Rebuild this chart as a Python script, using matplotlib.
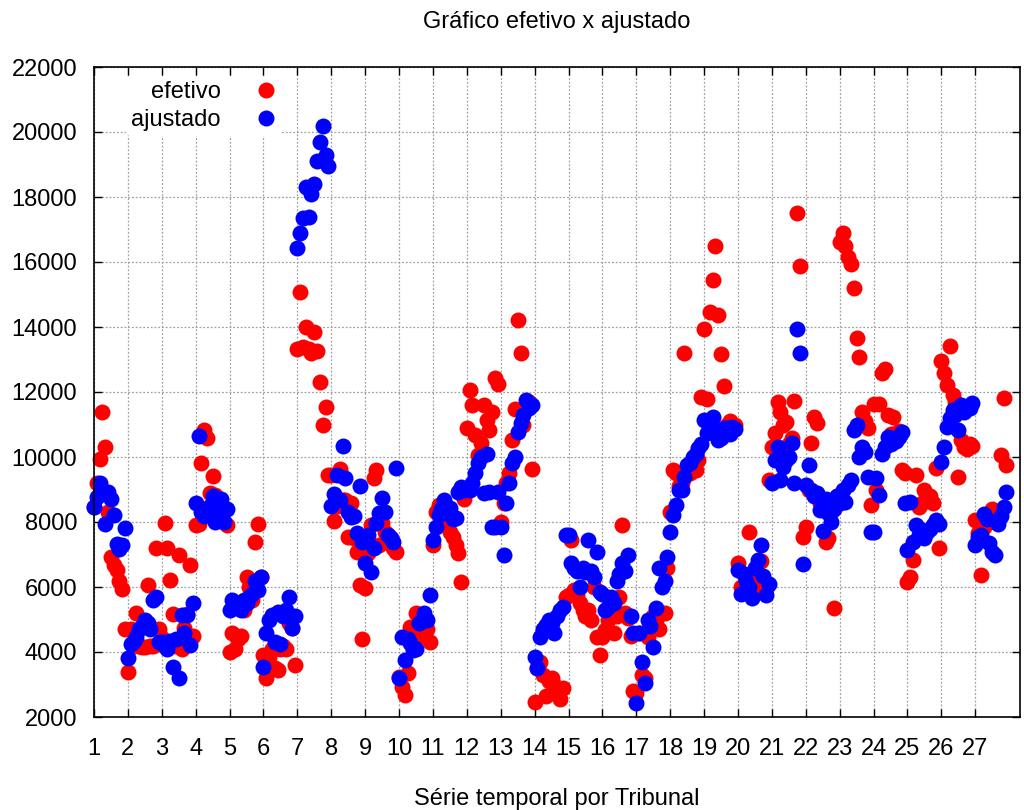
import matplotlib.pyplot as plt
import numpy as np

plt.rcParams['font.family'] = ['Liberation Sans', 'DejaVu Sans']

# 27 tribunais, 12 observações por tribunal
tribunais = [str(i) for i in range(1, 28)]

efetivo = [
    [8460, 9200, 9940, 11400, 10300, 8320, 6930, 6680, 6520, 6200, 5940, 4700],
    [3380, 4700, 4200, 5200, 4200, 4150, 4150, 6050, 4200, 4200, 7200, 4700],
    [4440, 7970, 7200, 6230, 5180, 4200, 6970, 4100, 4740, 5180, 6680, 4500],
    [7900, 7950, 9810, 10830, 10580, 8890, 9430, 8840, 8700, 8500, 8000, 7900],
    [4000, 4600, 4100, 4400, 4500, 5300, 6300, 6000, 5600, 7400, 7950, 6300],
    [3900, 3200, 3850, 4100, 3500, 3450, 4080, 4200, 4080, 4900, 4740, 3600],
    [13330, 15070, 13400, 14000, 13320, 13200, 13850, 13250, 12320, 10970, 11550, 9450],
    [9460, 8030, 8500, 9640, 8680, 8680, 7550, 8600, 7500, 7070, 6060, 4390],
    [5970, 7040, 7900, 9340, 9600, 7300, 7970, 7700, 7600, 7390, 7200, 7080],
    [3240, 2930, 2680, 3350, 4780, 4600, 5200, 4500, 4890, 5000, 4700, 4320],
    [7290, 8310, 8520, 8000, 8200, 7900, 7700, 7540, 7290, 7040, 6160, 8700],
    [10890, 12060, 11600, 10680, 10060, 10430, 11600, 11140, 10830, 11400, 12430, 12250],
    [8000, 8580, 9200, 9500, 10520, 11480, 14210, 13200, 11000, 11500, 11700, 9630],
    [2450, 3500, 3700, 3300, 2650, 3100, 3200, 3000, 2900, 2550, 2900, 5700],
    [5750, 7450, 5900, 5750, 5500, 5300, 5100, 5300, 5000, 6000, 4470, 3900],
    [4470, 4680, 5000, 5500, 4600, 5100, 5690, 7900, 5200, 5050, 4500, 2800],
    [2730, 4600, 3290, 3200, 4470, 4800, 5100, 5000, 4700, 5200, 5200, 6600],
    [8310, 9600, 9500, 9100, 9200, 13200, 9700, 9500, 9800, 9600, 9900, 11850],
    [13930, 11800, 14460, 15460, 16490, 14380, 13160, 12180, 11000, 11100, 10800, 11000],
    [6740, 6000, 6400, 6300, 7700, 6200, 6000, 6300, 6800, 6000, 5950, 9300],
    [10300, 10730, 11680, 11400, 11000, 11090, 10400, 10580, 11710, 17510, 15870, 7540],
    [7850, 9000, 10420, 11240, 11040, 8600, 8400, 7390, 7500, 8300, 5340, 8800],
    [16620, 16880, 16500, 16160, 15950, 15190, 13650, 13080, 11400, 11100, 10900, 8520],
    [11630, 9000, 11630, 12600, 12700, 11300, 10700, 11240, 10600, 10800, 9600, 9500],
    [6160, 6310, 6830, 9440, 8470, 8600, 8990, 8700, 8800, 8600, 9650, 7190],
    [12950, 12580, 12220, 13410, 11900, 11700, 9390, 10520, 10300, 10250, 10400, 10350],
    [8060, 7650, 6370, 7850, 8000, 8200, 8400, 8000, 8200, 10060, 11810, 9750],
]

ajustado = [
    [8470, 8770, 9200, 8900, 7940, 8930, 8700, 8210, 7320, 7170, 7300, 7810],
    [3820, 4250, 4350, 4450, 4700, 4800, 5000, 4900, 4700, 5600, 5700, 4300],
    [4310, 4200, 4100, 4350, 3540, 4400, 3200, 5130, 4590, 5130, 4230, 5500],
    [8600, 10650, 8300, 8200, 8400, 8500, 8800, 8000, 8300, 8700, 8000, 8400],
    [5300, 5600, 5500, 5400, 5300, 5600, 5500, 5700, 5800, 6200, 5900, 6300],
    [3540, 4600, 4980, 5150, 4300, 5220, 4260, 5100, 5280, 5700, 4740, 5100],
    [16440, 16900, 17340, 18300, 17400, 18100, 18400, 19100, 19700, 20200, 19300, 18950],
    [8500, 8860, 9460, 8680, 10350, 9340, 8320, 8140, 8200, 7670, 9100, 7400],
    [6740, 7610, 6470, 7200, 7970, 8280, 8740, 8300, 7610, 7500, 7400, 9660],
    [3200, 4470, 3750, 4400, 4270, 4060, 4100, 4890, 4960, 5200, 5000, 5750],
    [7450, 7850, 8220, 8400, 8680, 8300, 8430, 8100, 8120, 8930, 9080, 9000],
    [9050, 9000, 9200, 9500, 9810, 10000, 8890, 10100, 8930, 7850, 7850, 8930],
    [7850, 6980, 8580, 9200, 9810, 10010, 10780, 11040, 11300, 11750, 11500, 11600],
    [3850, 3500, 4470, 4700, 4830, 4990, 4900, 4580, 5100, 5290, 5400, 7600],
    [7600, 6740, 6600, 6500, 6000, 6600, 6460, 7450, 6500, 6300, 7080, 5840],
    [5800, 5290, 5390, 5700, 5500, 6200, 6400, 6740, 6500, 6980, 5100, 4600],
    [2430, 4580, 3700, 3050, 4990, 4800, 4160, 5350, 6580, 6000, 6200, 6930],
    [7700, 8220, 8520, 8990, 9000, 9390, 9750, 9810, 10010, 10100, 10270, 10400],
    [11140, 10730, 11000, 11240, 10800, 10520, 10600, 10900, 10900, 10700, 10930, 10850],
    [6520, 5800, 6400, 6200, 6000, 5650, 6600, 6830, 7290, 6350, 5750, 6100],
    [9200, 9900, 10310, 9290, 9700, 9900, 10000, 10420, 9200, 13950, 13200, 6700],
    [9140, 9750, 8990, 8800, 8900, 8370, 7720, 8700, 8270, 8000, 8400, 8800],
    [8600, 9000, 8620, 9140, 9290, 10830, 10980, 10010, 10310, 10150, 9390, 7700],
    [7700, 9350, 8830, 10100, 10300, 10630, 10400, 10600, 10500, 10630, 10780, 8600],
    [7140, 8620, 7400, 7900, 7600, 7760, 7500, 7700, 7800, 7900, 8060, 7950],
    [9860, 10300, 10930, 11200, 11450, 11300, 10830, 11600, 11400, 11500, 11500, 11650],
    [7300, 7550, 7600, 8260, 8100, 7340, 7080, 7000, 7950, 8200, 8470, 8930],
]


def _posicoes(series):
    # cada tribunal ocupa uma unidade do eixo x, começando no seu rótulo
    return np.concatenate([k + 1 + np.arange(len(v)) / len(v)
                           for k, v in enumerate(series)])


x_ef = _posicoes(efetivo)
x_aj = _posicoes(ajustado)
y_ef = np.concatenate(efetivo)
y_aj = np.concatenate(ajustado)

FS = 17

fig = plt.figure(figsize=(10.24, 8.10), dpi=100)
ax = fig.add_axes([94 / 1024, 1 - 717 / 810, (1020 - 94) / 1024, (717 - 67) / 810])

ax.plot(x_ef, y_ef, 'o', color='#ff0000', ms=11.5, mew=0, label='efetivo',
        clip_on=False, zorder=3)
ax.plot(x_aj, y_aj, 'o', color='#0000ff', ms=11.5, mew=0, label='ajustado',
        clip_on=False, zorder=4)

ax.set_xlim(1, 28.32)
ax.set_ylim(2000, 22000)
ax.set_xticks(range(1, 28))
ax.set_xticklabels(tribunais)
ax.set_yticks(range(2000, 22001, 2000))

ax.grid(True, color='#a0a0a0', linestyle=(0, (1.5, 1.5)), linewidth=0.9, zorder=0)
ax.set_axisbelow(True)
ax.tick_params(direction='in', length=6, width=1, top=True, right=True,
               labelsize=FS)
ax.tick_params(axis='x', pad=15)
ax.tick_params(axis='y', pad=12)
for s in ax.spines.values():
    s.set_linewidth(1.2)
    s.set_zorder(5)

ax.set_title('Gráfico efetivo x ajustado', fontsize=FS, pad=28)
ax.set_xlabel('Série temporal por Tribunal', fontsize=FS, labelpad=20)

leg = ax.legend(loc='upper left', bbox_to_anchor=(0.035, 0.985), markerfirst=False,
                frameon=True, fontsize=FS, handletextpad=1.42, borderpad=0.2,
                labelspacing=0.25, borderaxespad=0.0, handlelength=1.0)
leg.get_frame().set_facecolor('white')
leg.get_frame().set_edgecolor('none')
leg.get_frame().set_alpha(1.0)
for t in leg.get_texts():
    t.set_ha('right')
leg.set_zorder(6)

fig.savefig('out.png', dpi=100)
